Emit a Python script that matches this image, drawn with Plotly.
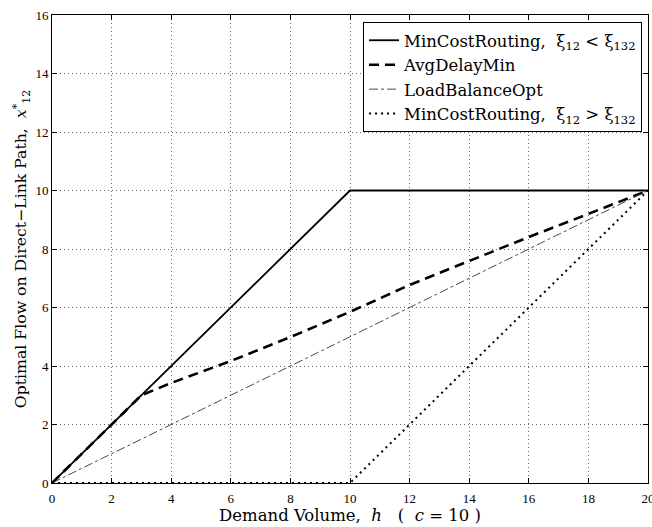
import plotly.graph_objects as go

# Data
h_mincost = [0, 10, 20]
x_mincost = [0, 10, 10]

h_avgdelay = [0, 3, 4, 6, 8, 10, 12, 14, 16, 18, 20]
x_avgdelay = [0, 3, 3.42, 4.17, 4.99, 5.85, 6.77, 7.59, 8.41, 9.2, 10]

h_loadbal = [0, 20]
x_loadbal = [0, 10]

h_mincost2 = [0, 10, 20]
x_mincost2 = [0, 0, 10]

x_ticks = list(range(0, 21, 2))
y_ticks = list(range(0, 17, 2))

TFONT = "DejaVu Serif"
NFONT = "Liberation Serif, 'Times New Roman', serif"

fig = go.Figure()
fig.add_trace(go.Scatter(x=h_mincost, y=x_mincost, mode="lines",
                         name="MinCostRouting,  ξ<sub>12</sub> < ξ<sub>132</sub>",
                         line=dict(color="black", width=1.8, dash="solid")))
fig.add_trace(go.Scatter(x=h_avgdelay, y=x_avgdelay, mode="lines",
                         name="AvgDelayMin",
                         line=dict(color="black", width=2.6, dash="10px,6px")))
fig.add_trace(go.Scatter(x=h_loadbal, y=x_loadbal, mode="lines",
                         name="LoadBalanceOpt",
                         line=dict(color="#333333", width=0.9, dash="dashdot")))
fig.add_trace(go.Scatter(x=h_mincost2, y=x_mincost2, mode="lines",
                         name="MinCostRouting,  ξ<sub>12</sub> > ξ<sub>132</sub>",
                         line=dict(color="black", width=2, dash="2px,4px")))

axis_common = dict(
    showline=True, linecolor="black", linewidth=1, mirror="ticks",
    ticks="inside", ticklen=5, tickcolor="black",
    showgrid=True, gridcolor="#666666", griddash="1px,3px", gridwidth=1,
    zeroline=False, ticklabeloverflow="allow",
    tickfont=dict(family=NFONT, size=13, color="black"),
)

fig.update_layout(
    width=652, height=527,
    margin=dict(l=52, r=4, t=15, b=44, autoexpand=False),
    paper_bgcolor="white", plot_bgcolor="white",
    font=dict(family=TFONT, color="black"),
    showlegend=True,
    legend=dict(x=0.99, y=0.985, xanchor="right", yanchor="top",
                bgcolor="white", bordercolor="black", borderwidth=1,
                font=dict(family=TFONT, size=16.5, color="black"),
                tracegroupgap=0, itemwidth=30),
    xaxis=dict(range=[0, 20], tickvals=x_ticks, automargin=False,
               ticklabelstandoff=3,
               title=dict(text="Demand Volume,  <i>h</i>   (  <i>c</i> = 10 )",
                          font=dict(family=TFONT, size=16.5), standoff=0),
               **axis_common),
    yaxis=dict(range=[0, 16], tickvals=y_ticks, automargin=False,
               title=dict(text="Optimal Flow on Direct−Link Path,  <i>x</i><sup>*</sup><sub>12</sub>",
                          font=dict(family=TFONT, size=15.7), standoff=4),
               **axis_common),
)

fig.write_html("out.html", config={"displayModeBar": False},
               post_script="document.body.style.margin='0px';")
